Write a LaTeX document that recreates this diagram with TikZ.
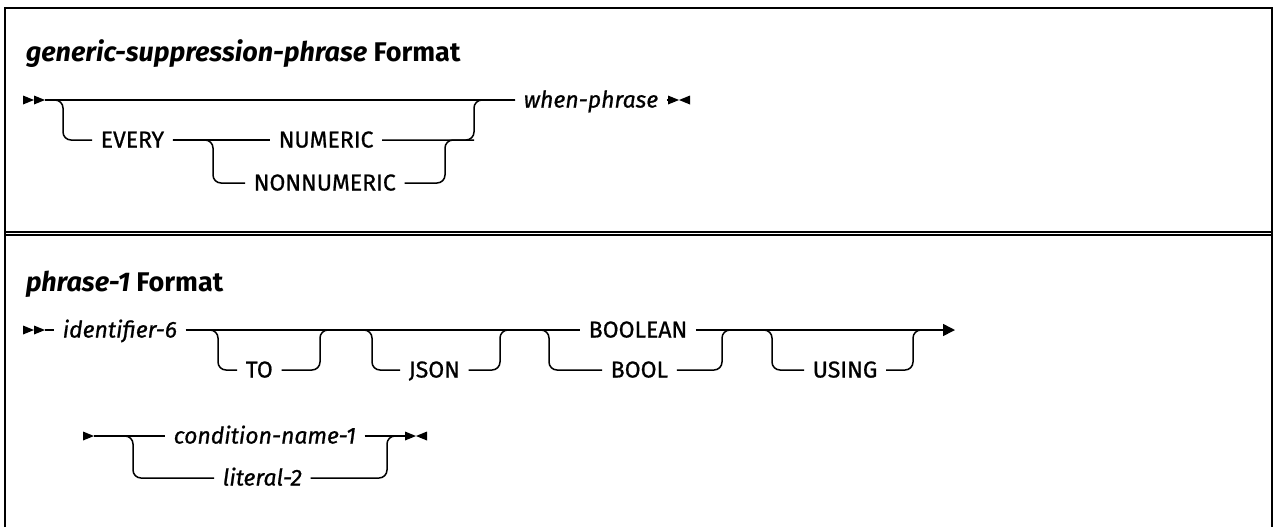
\documentclass[tikz,border=0pt]{standalone}
\usepackage{fontspec}
\setmainfont{Fira Sans}
\newfontfamily\kwfont{Fira Sans}[FakeBold=0.8]
\usetikzlibrary{arrows.meta}
\tikzset{
  every picture/.style={line width=0.75pt},
  kw/.style={anchor=west, inner xsep=4pt, inner ysep=0pt, text height=7.5pt, text depth=0pt, font=\kwfont\fontsize{11.5}{13}\selectfont},
  var/.style={kw, font=\kwfont\fontsize{11.5}{13}\selectfont\itshape},
  title/.style={anchor=base west, inner sep=0pt, font=\fontsize{13.5}{16}\selectfont\bfseries},
  rail/.style={rounded corners=4pt},
  frame/.style={line width=1pt},
  rtri/.pic={\fill (0,-4.5) -- (11,0) -- (0,4.5) -- cycle;},
  endmark/.pic={\fill (0,-4.5) -- (11,0) -- (0,4.5) -- cycle;
                \fill (22,-4.5) -- (11,0) -- (22,4.5) -- cycle;},
}

\begin{document}
\begin{tikzpicture}[x=0.5pt, y=-0.5pt]
  \useasboundingbox (0,0) rectangle (1273,527);
  % frame round both formats
  \draw[frame] (5,527) -- (5,8) -- (1272,8) -- (1272,527);
  \draw[frame] (5,231.5) -- (1272,231.5);
  \draw[frame] (5,234.5) -- (1272,234.5);
  % generic-suppression-phrase
  \node[title] (t1) at (25,61) {\textit{generic-suppression-phrase} Format};
  \pic at (23,100) {rtri};
  \pic at (34,100) {rtri};
  \coordinate (s1) at (45,100);
  \node[var] (when) at (515,100) {when-phrase};
  \coordinate (e1) at (668,100);
  \pic at (e1) {endmark};
  \node[kw] (every) at (92,140) {EVERY};
  \node[kw] (numeric) at (270,140) {NUMERIC};
  \node[kw] (nonnumeric) at (245,183) {NONNUMERIC};
  \draw (s1) -- (when.west);
  \draw (when.east) -- (e1);
  \draw[rail] (s1) -- (63,100) -- (63,140) -- (every.west);
  \draw (every.east) -- (numeric.west);
  \draw[rail] (every.east) -- (213,140) -- (213,183) -- (nonnumeric.west);
  \draw[rail] (numeric.east) -- (474,140) -- (474,100) -- (when.west);
  \draw[rail] (nonnumeric.east) -- (445,183) -- (445,140) -- (474,140);
  % phrase-1, first line
  \node[title] (t2) at (25,291) {\textit{phrase-1} Format};
  \pic at (23,330) {rtri};
  \pic at (34,330) {rtri};
  \coordinate (s2) at (45,330);
  \node[var] (ident) at (54,330) {identifier-6};
  \node[kw] (boolean) at (580,330) {BOOLEAN};
  \coordinate (e2) at (955,330);
  \draw (s2) -- (ident.west);
  \draw (ident.east) -- (boolean.west);
  \draw[-{Triangle[length=6pt,width=6pt]}] (boolean.east) -- (e2);
  \node[kw] (to) at (237,370) {TO};
  \node[kw] (json) at (400,370) {JSON};
  \node[kw] (bool) at (602,370) {BOOL};
  \node[kw] (using) at (804,370) {USING};
  \foreach \n/\a/\b in {to/218/320, json/372/500, bool/549/722, using/772/913} {
    \draw[rail] (\a-15,330) -- (\a,330) -- (\a,370) -- (\n.west);
    \draw[rail] (\n.east) -- (\b,370) -- (\b,330) -- (\b+15,330);
  }
  % phrase-1, second line
  \pic at (83,436) {rtri};
  \coordinate (s3) at (94,436);
  \node[var] (cond) at (165,436) {condition-name-1};
  \node[var] (lit) at (214,478) {literal-2};
  \coordinate (e3) at (405,436);
  \pic at (e3) {endmark};
  \draw (s3) -- (cond.west);
  \draw (cond.east) -- (e3);
  \draw[rail] (s3) -- (133,436) -- (133,478) -- (lit.west);
  \draw[rail] (lit.east) -- (387,478) -- (387,436) -- (e3);
\end{tikzpicture}
\end{document}
